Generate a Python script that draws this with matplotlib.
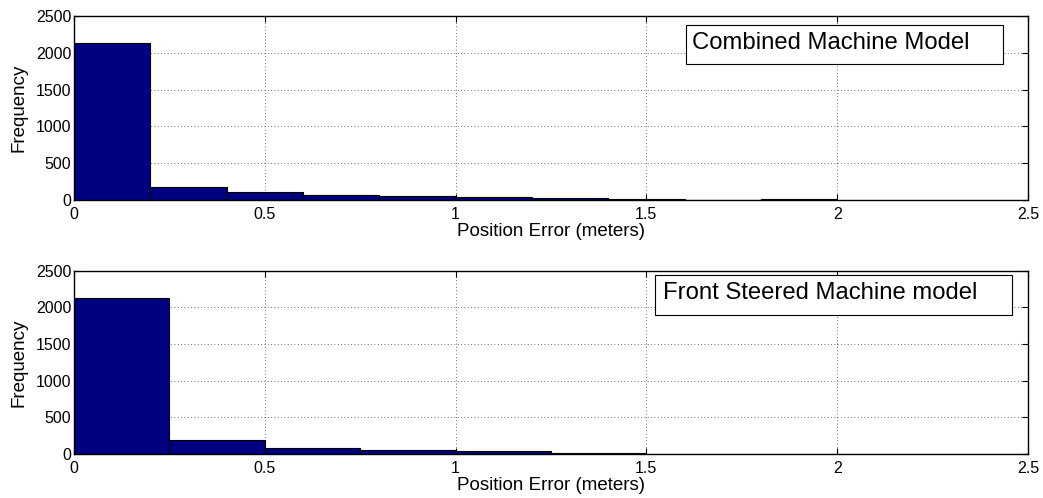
import numpy as np
from matplotlib import pyplot as plt
from matplotlib.patches import Rectangle
from matplotlib.ticker import MultipleLocator

# bin edges and counts
combined_edges = [0.0, 0.2, 0.4, 0.6, 0.8, 1.0, 1.2, 1.4, 1.6, 1.8, 2.0]
combined_counts = [2128, 170, 107, 71, 49, 36, 30, 12, 3, 8]

front_edges = [0.0, 0.25, 0.5, 0.75, 1.0, 1.25, 1.5, 1.75, 2.0, 2.25, 2.5]
front_counts = [2127, 190, 86, 52, 45, 20, 4, 2, 1, 1]

titles = ["Combined Machine Model", "Front Steered Machine model"]

plt.rcParams['font.family'] = ['Liberation Sans', 'DejaVu Sans']

BAR_COLOR = (0.0, 0.0, 0.5)


def _draw_hist(ax, edges, counts, label, box):
    edges = np.array(edges)
    ax.bar(edges[:-1], counts, width=np.diff(edges), align='edge',
           color=BAR_COLOR, edgecolor='black', linewidth=0.8, zorder=2)
    ax.set_xlim(0, 2.5)
    ax.set_ylim(0, 2500)
    ax.yaxis.set_major_locator(MultipleLocator(500))
    ax.set_xticks([0, 0.5, 1, 1.5, 2, 2.5], ['0', '0.5', '1', '1.5', '2', '2.5'])
    ax.grid(True, linestyle=(0, (1, 3)), color='#404040', linewidth=0.6, zorder=0)
    ax.tick_params(direction='in', top=True, right=True, labelsize=11.5, length=4)
    ax.tick_params(axis='x', pad=5)
    ax.tick_params(axis='y', pad=2)
    ax.set_xlabel("Position Error (meters)", fontsize=13.5, labelpad=1)
    ax.set_ylabel("Frequency", fontsize=13.5, labelpad=6)
    for s in ax.spines.values():
        s.set_linewidth(1.0)
    # legend-like box, fixed in axes coords
    x0, y0, x1, y1, tx = box
    ax.add_patch(Rectangle((x0, y0), x1 - x0, y1 - y0, transform=ax.transAxes,
                           facecolor='white', edgecolor='black', linewidth=0.8,
                           zorder=4))
    ax.text(tx, (y0 + y1) / 2 + 0.01, label, transform=ax.transAxes, fontsize=17.2,
            va='center', ha='left', zorder=5)


fig = plt.figure(figsize=(10.43, 4.98), dpi=100)
ax1 = fig.add_axes([0.0709, 0.5984, 0.9147, 0.3695])
ax2 = fig.add_axes([0.0709, 0.0884, 0.9147, 0.3679])

_draw_hist(ax1, combined_edges, combined_counts, titles[0],
           (0.6415, 0.739, 0.974, 0.951, 0.648))
_draw_hist(ax2, front_edges, front_counts, titles[1],
           (0.609, 0.758, 0.983, 0.977, 0.617))

fig.savefig("out.png", dpi=100)
